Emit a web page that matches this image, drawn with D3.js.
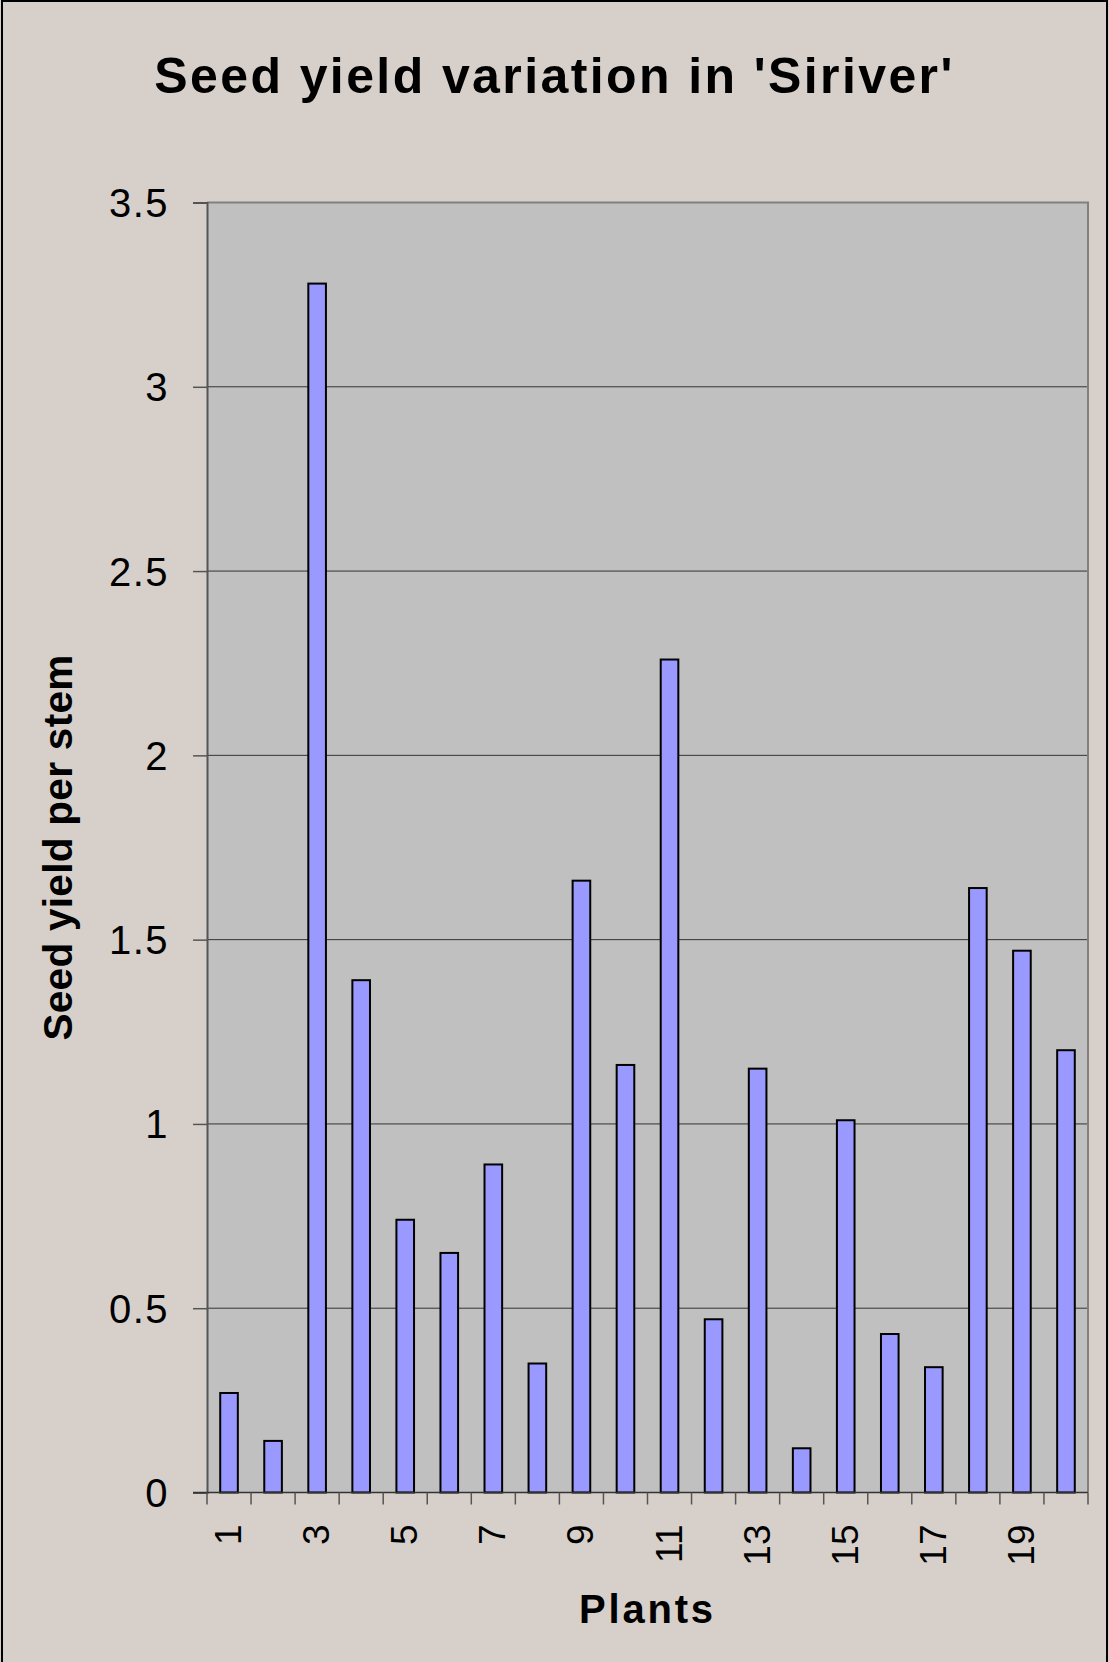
<!DOCTYPE html>
<html>
<head>
<meta charset="utf-8">
<script src="https://cdn.jsdelivr.net/npm/d3@7"></script>
<style>
  body { margin: 0; background: #d7d0ca; }
  svg { display: block; font-family: "Liberation Sans", Arial, sans-serif; }
</style>
</head>
<body>
<div id="chart"></div>
<script>
// data
const plants = d3.range(1, 21).map(String);
const seedYield = [0.27, 0.14, 3.28, 1.39, 0.74, 0.65, 0.89, 0.35, 1.66, 1.16,
                   2.26, 0.47, 1.15, 0.12, 1.01, 0.43, 0.34, 1.64, 1.47, 1.20];
const yTicks = [0, 0.5, 1, 1.5, 2, 2.5, 3, 3.5];
const xLabels = ["1", "3", "5", "7", "9", "11", "13", "15", "17", "19"];

const data = plants.map((p, i) => ({ plant: p, value: seedYield[i] }));

const W = 1109, H = 1662;
const plot = { left: 207, right: 1088, top: 202.5, bottom: 1492.5 };

const svg = d3.select("#chart").append("svg")
  .attr("width", W)
  .attr("height", H);

// page background + outer frame
svg.append("rect")
  .attr("x", 0).attr("y", 0).attr("width", W).attr("height", H)
  .attr("fill", "#d7d0ca");
svg.append("rect")
  .attr("x", 2).attr("y", 1).attr("width", W - 4).attr("height", H + 10)
  .attr("fill", "none").attr("stroke", "#000").attr("stroke-width", 2);

const x = d3.scaleBand()
  .domain(plants)
  .range([plot.left, plot.right])
  .padding(0);

const y = d3.scaleLinear()
  .domain([0, 3.5])
  .range([plot.bottom, plot.top]);

// plot area
svg.append("rect")
  .attr("x", plot.left).attr("y", plot.top)
  .attr("width", plot.right - plot.left).attr("height", plot.bottom - plot.top)
  .attr("fill", "#c0c0c0");

// gridlines
svg.append("g")
  .selectAll("line")
  .data(yTicks.filter(d => d > 0 && d < 3.5))
  .join("line")
  .attr("x1", plot.left).attr("x2", plot.right)
  .attr("y1", d => y(d)).attr("y2", d => y(d))
  .attr("stroke", "#333").attr("stroke-width", 1);

// plot border (top + right)
svg.append("path")
  .attr("d", `M${plot.left},${plot.top}H${plot.right}V${plot.bottom}`)
  .attr("fill", "none").attr("stroke", "#808080").attr("stroke-width", 2);

// bars: excel style gap width 150%
const barW = x.bandwidth() / 2.5;
svg.append("g")
  .selectAll("rect")
  .data(data)
  .join("rect")
  .attr("x", d => x(d.plant) + (x.bandwidth() - barW) / 2)
  .attr("y", d => y(d.value))
  .attr("width", barW)
  .attr("height", d => y(0) - y(d.value))
  .attr("fill", "#9999ff")
  .attr("stroke", "#000")
  .attr("stroke-width", 2);

// y axis
const yAxis = svg.append("g")
  .attr("transform", `translate(${plot.left},0)`)
  .call(d3.axisLeft(y).tickValues(yTicks).tickSize(14).tickPadding(24)
    .tickFormat(d3.format("")));
yAxis.select(".domain").attr("stroke", "#555").attr("stroke-width", 2);
yAxis.selectAll(".tick line").attr("stroke", "#555").attr("stroke-width", 1.5);
yAxis.selectAll(".tick text")
  .attr("font-size", 40)
  .attr("letter-spacing", 1.5)
  .attr("fill", "#000")
  .attr("dy", "0.35em");

// x axis: ticks on band edges
const edges = plants.map(p => x(p)).concat([plot.right]);
svg.append("line")
  .attr("x1", plot.left - 14).attr("x2", plot.right)
  .attr("y1", plot.bottom).attr("y2", plot.bottom)
  .attr("stroke", "#333").attr("stroke-width", 1.5);
svg.append("g")
  .selectAll("line")
  .data(edges)
  .join("line")
  .attr("x1", d => d).attr("x2", d => d)
  .attr("y1", plot.bottom).attr("y2", plot.bottom + 12)
  .attr("stroke", "#555").attr("stroke-width", 1.5);

svg.append("g")
  .selectAll("text")
  .data(xLabels)
  .join("text")
  .attr("transform", d => `translate(${x(d) + x.bandwidth() / 2 + 12},${plot.bottom + 32}) rotate(-90)`)
  .attr("text-anchor", "end")
  .attr("font-size", 37)
  .attr("fill", "#000")
  .text(d => d);

// titles
svg.append("text")
  .attr("x", W / 2)
  .attr("y", 93)
  .attr("text-anchor", "middle")
  .attr("font-size", 50)
  .attr("font-weight", "bold")
  .attr("letter-spacing", 2.4)
  .text("Seed yield variation in 'Siriver'");

svg.append("text")
  .attr("x", (plot.left + plot.right) / 2)
  .attr("y", 1623)
  .attr("text-anchor", "middle")
  .attr("font-size", 40)
  .attr("font-weight", "bold")
  .attr("letter-spacing", 2.8)
  .text("Plants");

svg.append("text")
  .attr("transform", `translate(72,${(plot.top + plot.bottom) / 2}) rotate(-90)`)
  .attr("text-anchor", "middle")
  .attr("font-size", 40.5)
  .attr("font-weight", "bold")
  .attr("letter-spacing", 0.3)
  .text("Seed yield per stem");
</script>
</body>
</html>
